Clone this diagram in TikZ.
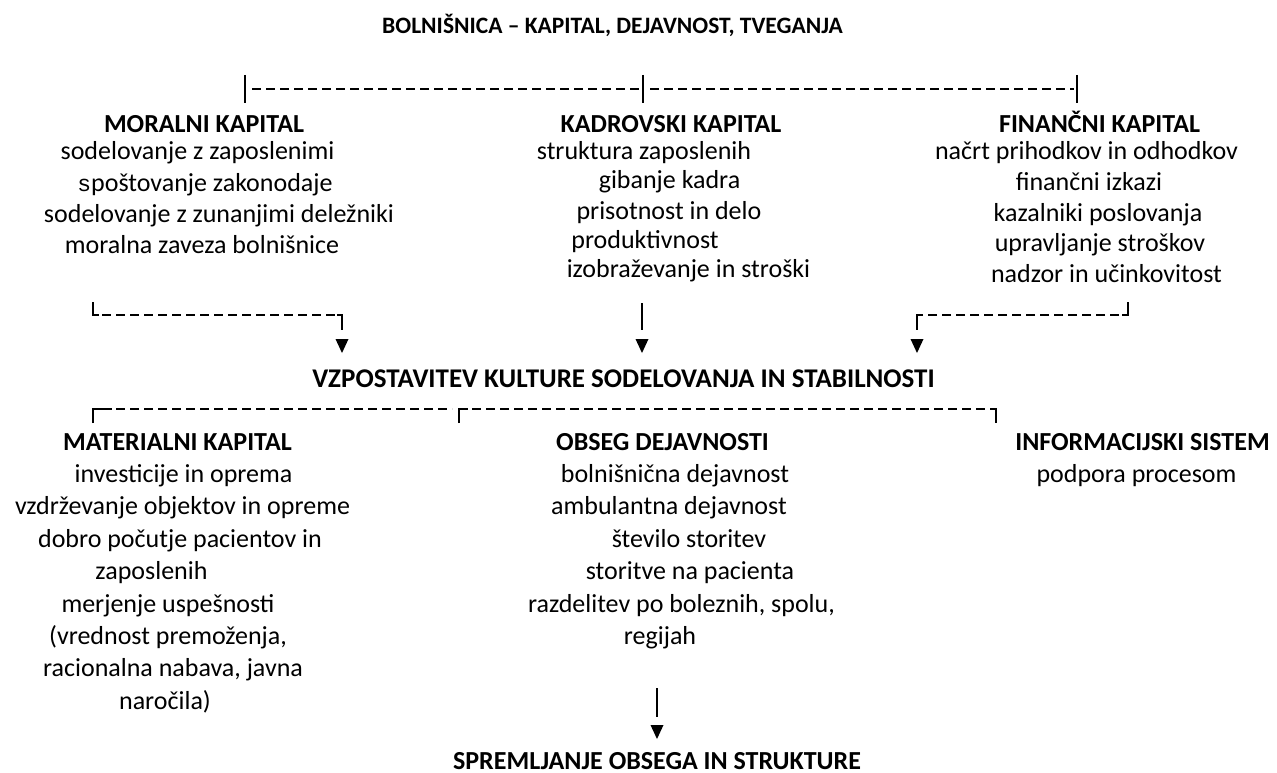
\documentclass[tikz,border=0pt]{standalone}
\usepackage{fontspec}
\setmainfont{Carlito}
\newfontfamily\monof{Liberation Mono}
\begin{document}
\begin{tikzpicture}[x=1pt,y=-1pt,
  txt/.style={anchor=base,inner sep=0pt,font=\fontsize{26}{30}\selectfont},
  hd/.style={anchor=base,inner sep=0pt,font=\fontsize{26}{30}\selectfont\bfseries},
  bar/.style={line width=1.6pt},
  dsh/.style={line width=1.5pt,dash pattern=on 9pt off 5pt},
  downtri/.pic={\fill (-6.5,0) -- (6.5,0) -- (0,14) -- cycle;}]
\useasboundingbox (0,0) rectangle (1277,773);

% title
\node[hd,font=\fontsize{23.5}{28}\selectfont\bfseries] (title) at (612.5,33.5) {BOLNIŠNICA – KAPITAL, DEJAVNOST, TVEGANJA};

% top connector
\coordinate (tL) at (245,75); \coordinate (tLb) at (245,103);
\coordinate (tM) at (643,75); \coordinate (tMb) at (643,103);
\coordinate (tR) at (1077,75); \coordinate (tRb) at (1077,103);
\draw[bar] (tL) -- (tLb);
\draw[bar] (tM) -- (tMb);
\draw[bar] (tR) -- (tRb);
\draw[dsh] ([xshift=7pt,yshift=-14pt]tL) -- ([xshift=-3pt,yshift=-14pt]tM);
\draw[dsh] ([xshift=7pt,yshift=-14pt]tM) -- ([xshift=-3pt,yshift=-14pt]tR);

% MORALNI
\node[hd] (mor) at (204,132) {MORALNI KAPITAL};
\node[txt] (mor1) at (197.5,160) {sodelovanje z zaposlenimi};
\node[txt] (mor2) at (205,191) {{\monof\fontsize{23}{30}\selectfont s}poštovanje zakonodaje};
\node[txt] (mor3) at (219,222) {sodelovanje z zunanjimi deležniki};
\node[txt] (mor4) at (202,253) {moralna zaveza bolnišnice};

% KADROVSKI
\node[hd] (kad) at (671,132) {KADROVSKI KAPITAL};
\node[txt] (kad1) at (644,160) {struktura zaposlenih};
\node[txt] (kad2) at (669.5,189) {gibanje kadra};
\node[txt] (kad3) at (669,219) {prisotnost in delo};
\node[txt] (kad4) at (645,248) {produktivnost};
\node[txt] (kad5) at (688.5,277) {izobraževanje in stroški};

% FINANCNI
\node[hd] (fin) at (1099.5,132) {FINANČNI KAPITAL};
\node[txt] (fin1) at (1086.5,160) {načrt prihodkov in odhodkov};
\node[txt] (fin2) at (1089,190) {finančni izkazi};
\node[txt] (fin3) at (1098,221) {kazalniki poslovanja};
\node[txt] (fin4) at (1100,251) {upravljanje stroškov};
\node[txt] (fin5) at (1106.5,282) {nadzor in učinkovitost};

% connectors to VZPOSTAVITEV
\coordinate (lA) at (93,302); \coordinate (lB) at (93,315);
\coordinate (lC) at (342,315); \coordinate (lD) at (342,330);
\draw[bar] (lA) -- (lB) -- ++(6,0);
\draw[dsh] ([xshift=9pt]lB) -- ([xshift=-4pt]lC);
\draw[bar] ([xshift=-5pt]lC) -- (lC) -- (lD);
\pic at (342,339) {downtri};

\coordinate (mA) at (642,303); \coordinate (mB) at (642,330);
\draw[bar] (mA) -- (mB);
\pic at (642,339) {downtri};

\coordinate (rA) at (1128,302); \coordinate (rB) at (1128,315);
\coordinate (rC) at (917,315); \coordinate (rD) at (917,330);
\draw[bar] (rA) -- (rB) -- ++(-6,0);
\draw[dsh] ([xshift=-9pt]rB) -- ([xshift=4pt]rC);
\draw[bar] ([xshift=5pt]rC) -- (rC) -- (rD);
\pic at (917,339) {downtri};

\node[hd,font=\fontsize{27}{30}\selectfont\bfseries] (vzp) at (623.5,387) {VZPOSTAVITEV KULTURE SODELOVANJA IN STABILNOSTI};

% second row connector
\coordinate (bL) at (93,409); \coordinate (bLd) at (93,423);
\coordinate (bM) at (459,409); \coordinate (bMd) at (459,423);
\coordinate (bR) at (996,409); \coordinate (bRd) at (996,423);
\draw[bar] (bLd) -- (bL) -- (112,409);
\draw[dsh] (116,409) -- (452,409);
\draw[bar] (bMd) -- (bM) -- (468,409);
\draw[dsh] (472,409) -- (990,409);
\draw[bar] (990,409) -- (bR) -- (bRd);

% MATERIALNI
\node[hd] (mat) at (177.5,450) {MATERIALNI KAPITAL};
\node[txt] (mat1) at (183.5,482.4) {investicije in oprema};
\node[txt] (mat2) at (182.5,514.8) {vzdrževanje objektov in opreme};
\node[txt] (mat3) at (180,547.2) {dobro počutje pacientov in};
\node[txt] (mat4) at (151.5,579.6) {zaposlenih};
\node[txt] (mat5) at (168,612) {merjenje uspešnosti};
\node[txt] (mat6) at (168,644.4) {(vrednost premoženja,};
\node[txt] (mat7) at (173,676.8) {racionalna nabava, javna};
\node[txt] (mat8) at (165,709.2) {naročila)};

% OBSEG
\node[hd] (obs) at (662.5,450) {OBSEG DEJAVNOSTI};
\node[txt] (obs1) at (675,482.4) {bolnišnična dejavnost};
\node[txt] (obs2) at (669,514.8) {ambulantna dejavnost};
\node[txt] (obs3) at (689,547.2) {število storitev};
\node[txt] (obs4) at (690,579.6) {storitve na pacienta};
\node[txt] (obs5) at (681.5,612) {razdelitev po boleznih, spolu,};
\node[txt] (obs6) at (660,644.4) {regijah};

% INFORMACIJSKI
\node[hd] (inf) at (1142.5,450) {INFORMACIJSKI SISTEM};
\node[txt] (inf1) at (1136.5,482.4) {podpora procesom};

% bottom arrow
\coordinate (oA) at (657,688); \coordinate (oB) at (657,717);
\draw[bar] (oA) -- (oB);
\pic at (657,725) {downtri};
\node[hd] (spr) at (657,769) {SPREMLJANJE OBSEGA IN STRUKTURE};
\end{tikzpicture}
\end{document}
